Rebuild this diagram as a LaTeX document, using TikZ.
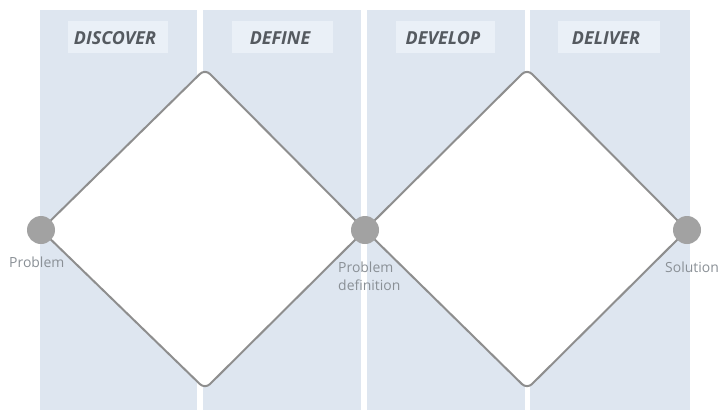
\documentclass[tikz,border=0pt]{standalone}
\usepackage{fontspec}
\setmainfont{Open Sans}
\begin{document}
\begin{tikzpicture}[x=1bp,y=-1bp,
  panel/.style={fill=panelblue, draw=none},
  tagbox/.style={fill=tagblue, draw=none},
  phase/.style={font=\fontsize{18}{18}\selectfont\bfseries\itshape, text=phasegray},
  diamondline/.style={draw=linegray, line width=2bp, fill=white, rounded corners=7bp},
  milestone/.style={circle, fill=dotgray, minimum size=28bp, inner sep=0pt},
  caption/.style={font=\fontsize{14}{18}\selectfont, text=capgray, align=left, inner sep=0pt}]
\definecolor{panelblue}{HTML}{DEE6F0}
\definecolor{tagblue}{HTML}{EAF0F7}
\definecolor{phasegray}{HTML}{555A60}
\definecolor{linegray}{HTML}{8E8E8E}
\definecolor{dotgray}{HTML}{A2A2A2}
\definecolor{capgray}{HTML}{8A9096}
\useasboundingbox (0,0) rectangle (718,410);
\fill[white] (0,0) rectangle (718,410);

% four phase columns
\fill[panel] (40,10) rectangle (197,410);
\fill[panel] (203,10) rectangle (361,410);
\fill[panel] (367,10) rectangle (525,410);
\fill[panel] (530,10) rectangle (690,410);

% phase tags
\fill[tagbox] (68,21) rectangle (168,53);
\fill[tagbox] (232,21) rectangle (333,53);
\fill[tagbox] (396,21) rectangle (495,53);
\fill[tagbox] (558,21) rectangle (660,53);
\node[phase] (discover) at (115,38) {DISCOVER};
\node[phase] (define) at (280,38) {DEFINE};
\node[phase] (develop) at (443,38) {DEVELOP};
\node[phase] (deliver) at (606,38) {DELIVER};

% diamond vertices
\coordinate (pA) at (41,230);
\coordinate (tA) at (205,69);
\coordinate (pB) at (365,230);
\coordinate (bA) at (205,389);
\coordinate (tB) at (527,69);
\coordinate (pC) at (687,230);
\coordinate (bB) at (527,389);

% diverge / converge diamonds
\draw[diamondline] (pA) -- (tA) -- (pB) -- (bA) -- cycle;
\draw[diamondline] (pB) -- (tB) -- (pC) -- (bB) -- cycle;

% milestones
\node[milestone] (problem) at (pA) {};
\node[milestone] (definition) at (pB) {};
\node[milestone] (solution) at (pC) {};

\node[caption, anchor=north west] (problemtxt) at (9,257) {Problem};
\node[caption, anchor=north west] (definitiontxt) at (338,262) {Problem\\definition};
\node[caption, anchor=north west] (solutiontxt) at (665,262) {Solution};
\end{tikzpicture}
\end{document}
